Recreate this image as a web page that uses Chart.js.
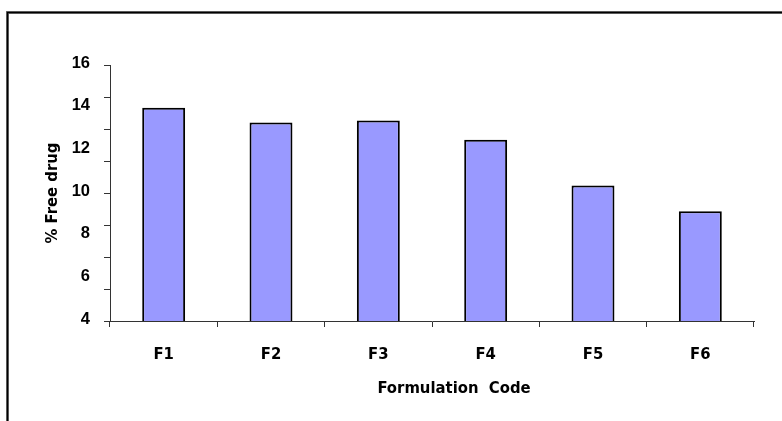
<!DOCTYPE html>
<html>
<head>
<meta charset="utf-8">
<script src="https://cdn.jsdelivr.net/npm/chart.js@4/dist/chart.umd.min.js"></script>
<style>
  html, body { margin: 0; padding: 0; background: #fff; }
  #wrap { width: 782px; height: 421px; }
</style>
</head>
<body>
<div id="wrap"><canvas id="c" width="782" height="421"></canvas></div>
<script>
// Formulation codes and the measured percentage of free drug
const categories = ['F1', 'F2', 'F3', 'F4', 'F5', 'F6'];
const freeDrug = [14.0, 13.3, 13.4, 12.5, 10.35, 9.15];
// Labelled values on the vertical axis
const yLabels = [4, 6, 8, 10, 12, 14, 16];
const xTitle = 'Formulation  Code';

const labelFont = { family: '"DejaVu Sans Condensed", "DejaVu Sans", sans-serif', weight: 'bold', size: 16.5 };
const numFont = { family: '"Liberation Sans", Arial, sans-serif', weight: 'bold', size: 16.5 };

// Frame around the figure (top and left edges) and the category-axis caption,
// which sits a little right of the plot centre
const decorPlugin = {
  id: 'decor',
  afterDraw(chart) {
    const ctx = chart.ctx;
    ctx.save();
    ctx.lineCap = 'butt';
    ctx.strokeStyle = '#777';
    ctx.lineWidth = 3;
    ctx.beginPath();
    ctx.moveTo(7.5, 421);
    ctx.lineTo(7.5, 12.5);
    ctx.lineTo(782, 12.5);
    ctx.stroke();
    ctx.strokeStyle = '#000';
    ctx.lineWidth = 1.5;
    ctx.beginPath();
    ctx.moveTo(7.5, 421);
    ctx.lineTo(7.5, 12.5);
    ctx.lineTo(782, 12.5);
    ctx.stroke();

    const area = chart.chartArea;
    ctx.fillStyle = '#000';
    ctx.font = 'bold 16.5px "DejaVu Sans Condensed", "DejaVu Sans", sans-serif';
    ctx.textAlign = 'center';
    ctx.textBaseline = 'middle';
    ctx.fillText(xTitle, (area.left + area.right) / 2 + 22, area.bottom + 68);
    ctx.restore();
  }
};

new Chart(document.getElementById('c'), {
  type: 'bar',
  data: {
    labels: categories,
    datasets: [{
      label: '% Free drug',
      data: freeDrug,
      backgroundColor: '#9999FF',
      borderColor: '#000',
      borderWidth: 2,
      barPercentage: 0.4,
      categoryPercentage: 1.0,
      yAxisID: 'y'
    }]
  },
  options: {
    responsive: false,
    animation: false,
    devicePixelRatio: 1,
    layout: { padding: { left: 40, top: 65, right: 28, bottom: 0 } },
    plugins: { legend: { display: false }, tooltip: { enabled: false } },
    scales: {
      x: {
        grid: { display: true, drawOnChartArea: false, drawTicks: true, tickLength: 6, color: '#333', offset: true },
        border: { display: true, color: '#333', width: 1 },
        ticks: { color: '#000', font: labelFont, padding: 18 },
        afterFit(scale) { scale.height = 100; }
      },
      // tick marks only, next to the plot area
      yMarks: {
        position: 'left',
        weight: 0,
        min: 4, max: 16,
        ticks: { display: false, stepSize: 1.5 },
        grid: { display: true, drawOnChartArea: false, drawTicks: true, tickLength: 6, color: '#333' },
        border: { display: true, color: '#333', width: 1 },
        afterFit(scale) { scale.width = 6; }
      },
      // numeric labels and axis title
      y: {
        position: 'left',
        weight: 1,
        min: 4, max: 16,
        afterBuildTicks(scale) { scale.ticks = yLabels.map(v => ({ value: v })); },
        ticks: { color: '#000', font: numFont, padding: 14, labelOffset: -2 },
        grid: { display: false, drawTicks: false },
        border: { display: false },
        title: { display: true, text: '% Free drug', color: '#000', font: labelFont, padding: { top: 3, bottom: 0 } },
        afterFit(scale) { scale.width = 64; }
      }
    }
  },
  plugins: [decorPlugin]
});
</script>
</body>
</html>
